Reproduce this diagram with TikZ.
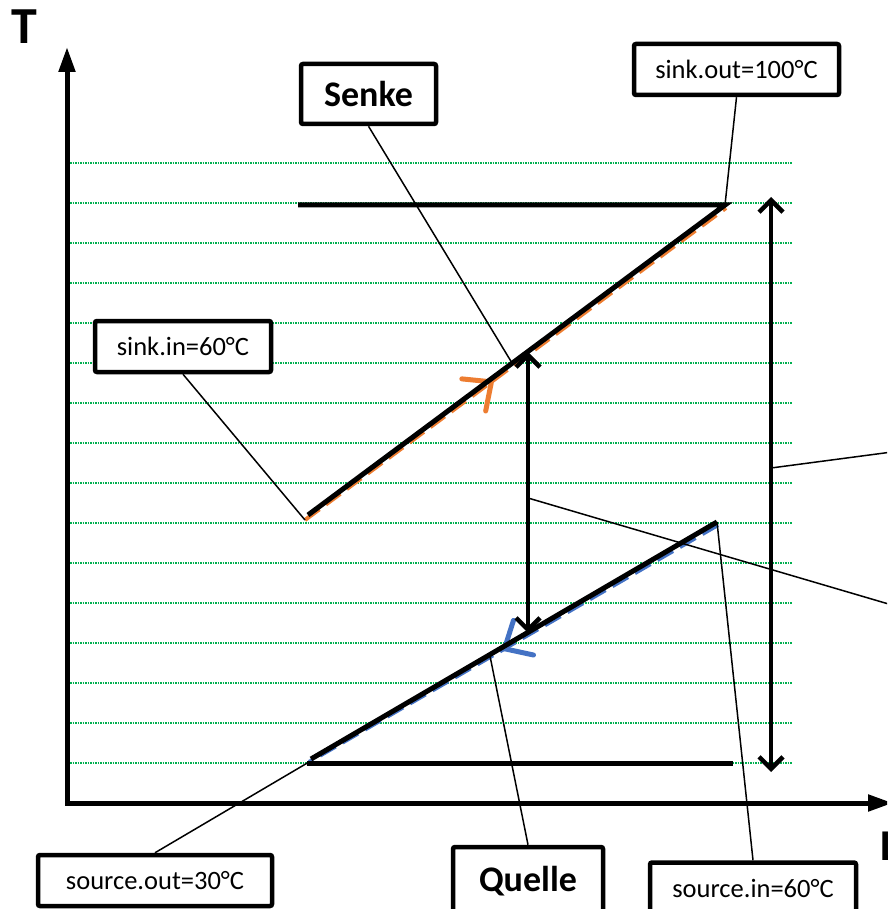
\documentclass[tikz,border=0pt]{standalone}
\usepackage{fontspec}
\setmainfont{Carlito}
\usetikzlibrary{arrows.meta,decorations.markings}
\definecolor{gridgreen}{HTML}{00B050}
\definecolor{sinkorange}{HTML}{ED7D31}
\definecolor{sourceblue}{HTML}{4472C4}
\tikzset{
    box/.style={draw, line width=4.5pt, fill=white, rounded corners=2pt, inner sep=0pt, font=\fontsize{26.5}{30}\selectfont},
    bigbox/.style={box, font=\fontsize{36}{40}\selectfont\bfseries},
    conn/.style={line width=1.5pt},
    bar/.style={line width=5pt},
    gridline/.style={gridgreen, line width=1.2pt, dash pattern=on 1.5pt off 1pt},
    flow/.style={line width=4pt, dash pattern=on 18pt off 8pt, postaction={decorate},
        decoration={markings, mark=at position #1 with {\arrow{Straight Barb[length=22pt,width=40pt,line width=5pt,line cap=round]}}}},
    dbl/.style={line width=4.5pt, {Straight Barb[length=12pt,width=24pt]}-{Straight Barb[length=12pt,width=24pt]}}
}
\begin{document}
\begin{tikzpicture}[x=1pt, y=-1pt]
    \useasboundingbox (0,0) rectangle (887,909);
    \clip (0,0) rectangle (887,909);
    \foreach \y in {163,203,...,763} {
        \draw[gridline] (70,\y) -- (792,\y);
    }
    \coordinate (o) at (67,803);
    \coordinate (ytip) at (67,47);
    \coordinate (xtip) at (893,803);
    \coordinate (sinkA) at (308,515);
    \coordinate (sinkB) at (725,205);
    \coordinate (srcA) at (311,759);
    \coordinate (srcB) at (717,522);
    \coordinate (sinkin0) at (305,520);
    \coordinate (srcout0) at (309,762);
    \coordinate (senkehit) at (512,363);
    \coordinate (quellehit) at (490,656);
    \coordinate (dtA) at (528,352);
    \coordinate (dtB) at (528,633);
    \coordinate (dtmid) at (528,498);
    \coordinate (rtA) at (771,197);
    \coordinate (rtB) at (771,772);
    \coordinate (rtmid) at (771,468);
    \coordinate (offA) at (960,625);
    \coordinate (offB) at (960,443);
    \draw[flow=0.45, sinkorange] (sinkin0) -- (726,208);
    \draw[flow=0.53, sourceblue] (718,525) -- (srcout0);
    \draw[bar] (298,205) -- (sinkB) -- (sinkA);
    \draw[bar] (307,763) -- (733,763);
    \draw[bar] (srcA) -- (srcB);
    \draw[bar, -{Triangle[length=25pt,width=16pt]}] (67,805) -- (ytip);
    \draw[bar, -{Triangle[length=25pt,width=16pt]}] (65,803) -- (xtip);
    \draw[dbl] (dtA) -- (dtB);
    \draw[dbl] (rtA) -- (rtB);
    \node[anchor=base west, inner sep=0pt, font=\fontsize{52}{56}\selectfont\bfseries] (tlabel) at (11,44) {T};
    \node[anchor=base west, inner sep=0pt, font=\fontsize{44}{48}\selectfont\bfseries] (llabel) at (880,860) {L};
    \node[box, minimum width=205pt, minimum height=51pt] (sinkout) at (736.5,69.5) {sink.out=100°C};
    \node[bigbox, minimum width=135pt, minimum height=60pt] (senke) at (368.5,94) {Senke};
    \node[box, minimum width=176pt, minimum height=51pt] (sinkin) at (183,346.5) {sink.in=60°C};
    \node[box, minimum width=234pt, minimum height=51pt] (sourceout) at (155,880.5) {source.out=30°C};
    \node[bigbox, minimum width=150pt, minimum height=68pt] (quelle) at (528,881) {Quelle};
    \node[box, minimum width=206pt, minimum height=51pt] (sourcein) at (753,888) {source.in=60°C};
    \draw[conn] (sinkout.south) -- (sinkB);
    \draw[conn] (senke.south) -- (senkehit);
    \draw[conn] (sinkin.south) -- (sinkin0);
    \draw[conn] (sourceout.north) -- (srcout0);
    \draw[conn] (quelle.north) -- (quellehit);
    \draw[conn] (sourcein.north) -- (srcB);
    \draw[conn] (dtmid) -- (offA);
    \draw[conn] (rtmid) -- (offB);
\end{tikzpicture}
\end{document}
